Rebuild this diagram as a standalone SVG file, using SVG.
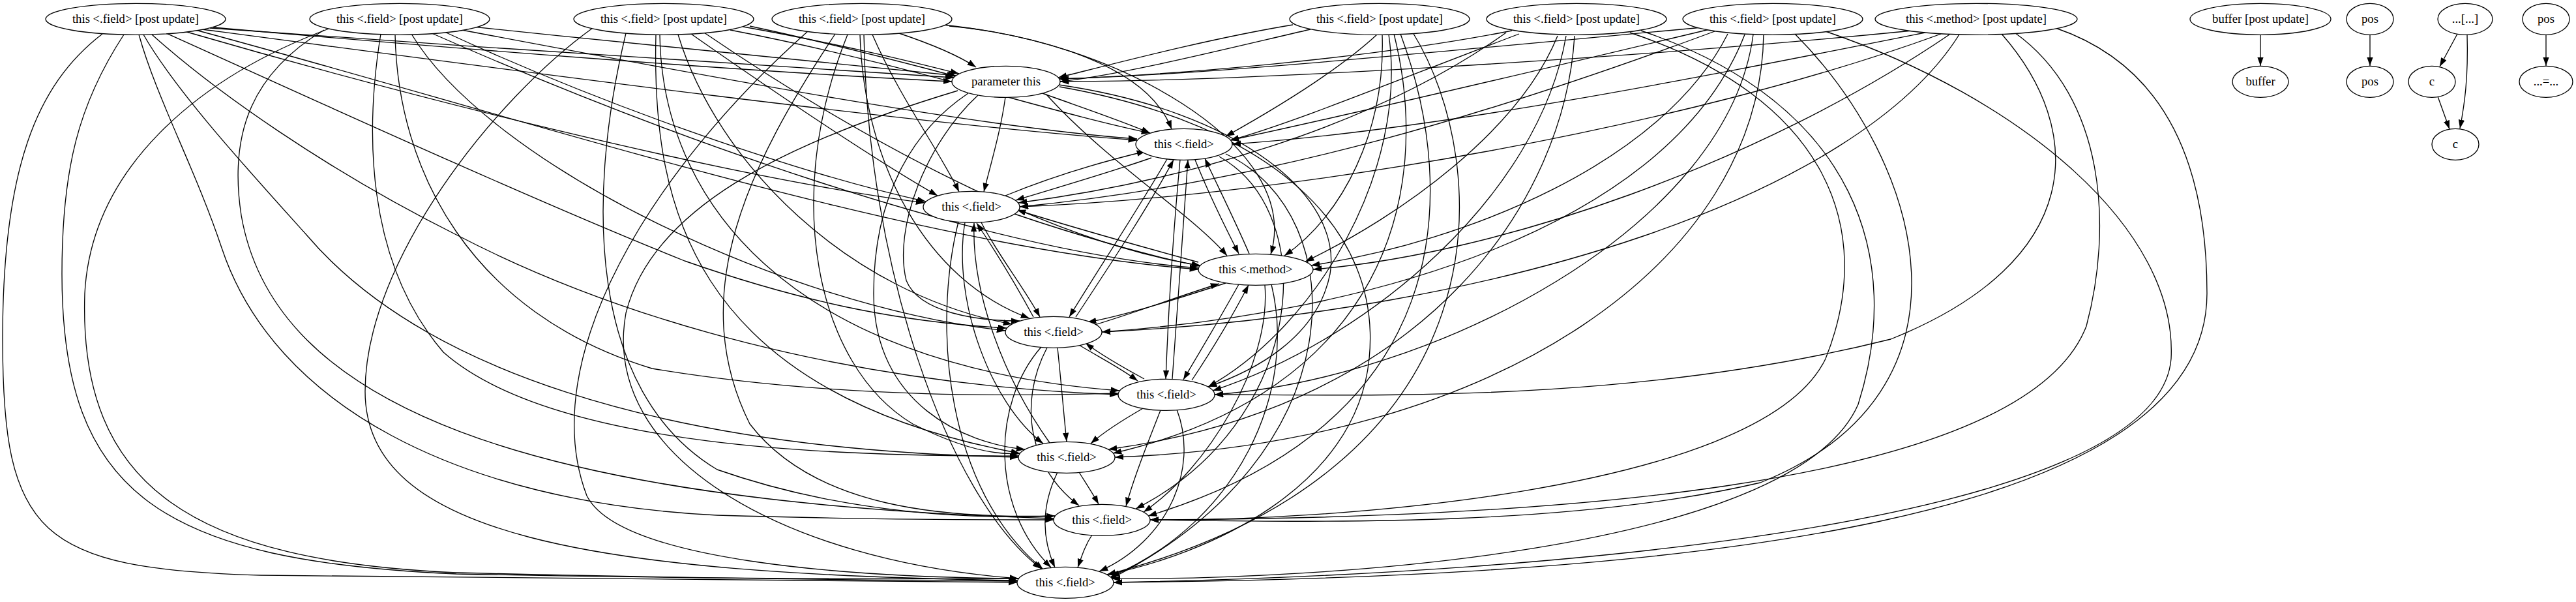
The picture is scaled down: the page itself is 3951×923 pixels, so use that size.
<svg xmlns="http://www.w3.org/2000/svg" width="3951" height="923" viewBox="0 0 3951 923">
<defs>
<marker id="ah" markerWidth="14" markerHeight="10" refX="13.3" refY="4.7" orient="auto" markerUnits="userSpaceOnUse"><path d="M0,0 L13.3,4.7 L0,9.4 z" fill="#000"/></marker>
<style>
.n ellipse{fill:#fff;stroke:#000;stroke-width:1.33}
text{font-family:"Liberation Serif","Times New Roman",serif;font-size:18.67px;text-anchor:middle;fill:#000}
#edges path{fill:none;stroke:#000;stroke-width:1.33;marker-end:url(#ah)}
</style>
</defs>
<rect width="3951" height="923" fill="#fff"/>
<g id="edges">
<!-- A -->
<path d="M157,52 C55,130 4,260 4,520 C4,820 60,872 400,882 C900,888 1300,890 1560,893"/>
<path d="M190,53 C120,160 95,260 95,420 C95,760 250,860 700,880 C1100,888 1400,888 1562,887"/>
<path d="M213,53 C240,150 300,260 340,380 C420,620 700,770 1100,790 C1350,797 1500,797 1616,797"/>
<path d="M220,53 C270,140 380,260 470,360 C640,560 1000,690 1562,701"/>
<path d="M233,53 C330,140 500,260 700,360 C950,490 1300,590 1715,605"/>
<path d="M253,50 C420,125 800,300 1050,400 C1250,470 1400,495 1544,503"/>
<path d="M283,48 C600,140 1100,270 1418,311"/>
<path d="M300,46 C800,180 1400,380 1838,413"/>
<path d="M310,45 C800,110 1400,190 1744,215"/>
<path d="M322,43 C700,70 1150,100 1463,119"/>
<path d="M327,42 C700,75 1150,110 1460,125"/>
<!-- B -->
<path d="M507,43 C300,120 140,260 130,450 C120,750 300,860 700,878 C1100,888 1400,890 1560,891"/>
<path d="M497,46 C390,110 350,200 370,330 C420,620 800,770 1616,795"/>
<path d="M584,52 C560,200 560,400 680,540 C850,690 1300,700 1562,699"/>
<path d="M606,53 C610,260 720,480 1000,565 C1300,615 1600,606 1715,603"/>
<path d="M631,52 C750,250 1200,470 1542,507"/>
<path d="M660,50 C1000,200 1500,385 1838,411"/>
<path d="M680,48 C900,150 1200,260 1420,309"/>
<path d="M703,45 C1100,120 1500,195 1744,213"/>
<path d="M725,41 C1000,70 1300,100 1466,116"/>
<!-- C -->
<path d="M909,43 C760,150 560,400 560,600 C560,820 900,880 1560,890"/>
<path d="M960,51 C900,300 900,600 1100,720 C1300,790 1500,796 1618,791"/>
<path d="M1006,53 C1000,300 1050,600 1564,695"/>
<path d="M1012,53 C1015,300 1200,560 1717,599"/>
<path d="M1040,53 C1100,250 1300,450 1552,497"/>
<path d="M1080,50 C1300,200 1600,370 1841,407"/>
<path d="M1060,52 C1200,150 1350,250 1438,300"/>
<path d="M1120,46 C1400,100 1600,170 1764,204"/>
<path d="M1140,41 C1300,70 1400,95 1471,113"/>
<path d="M1150,40 C1300,72 1400,100 1467,117"/>
<!-- D -->
<path d="M1239,48 C1000,260 820,550 900,760 C950,860 1300,885 1562,887"/>
<path d="M1281,52 C1150,250 1050,450 1150,650 C1250,780 1450,795 1618,791"/>
<path d="M1300,53 C1200,300 1250,560 1400,650 C1480,690 1530,698 1564,695"/>
<path d="M1319,53 C1325,250 1420,430 1579,488"/>
<path d="M1325,53 C1330,400 1450,760 1597,872"/>
<path d="M1338,53 C1380,150 1440,230 1471,294"/>
<path d="M1376,50 C1430,68 1470,85 1497,103"/>
<path d="M1446,38 C1600,55 1760,100 1797,198"/>
<path d="M1456,40 C1700,60 2000,220 1949,390"/>
<!-- E -->
<path d="M1983,38 C1850,60 1700,100 1623,119"/>
<path d="M2010,45 C1880,75 1720,115 1626,125"/>
<path d="M2112,53 C2050,110 1950,170 1880,209"/>
<path d="M2120,53 C2125,200 2060,330 1970,392"/>
<path d="M2130,53 C2160,260 2020,500 1853,593"/>
<path d="M2138,52 C2200,300 2120,600 1707,695"/>
<path d="M2148,52 C2240,300 2230,650 1761,791"/>
<path d="M2167,50 C2290,250 2320,720 1698,881"/>
<!-- F -->
<path d="M2319,47 C2100,90 1800,115 1626,121"/>
<path d="M2310,50 C2100,200 1800,280 1562,311"/>
<path d="M2389,55 C2330,200 2150,330 2002,401"/>
<path d="M2402,55 C2360,300 2100,520 1860,599"/>
<path d="M2415,55 C2400,300 2200,620 1700,689"/>
<path d="M2500,50 C2800,150 2880,350 2800,550 C2700,760 2000,800 1764,797"/>
<path d="M2517,47 C2850,160 2920,400 2850,620 C2750,850 2000,890 1705,887"/>
<path d="M2330,52 C2150,120 1980,190 1887,215"/>
<!-- G -->
<path d="M2610,42 C2200,80 1850,115 1623,121"/>
<path d="M2622,45 C2350,110 2050,180 1887,215"/>
<path d="M2630,48 C2300,170 1950,280 1564,317"/>
<path d="M2650,52 C2550,250 2250,370 2011,407"/>
<path d="M2676,53 C2560,350 2100,480 1690,509"/>
<path d="M2689,53 C2650,350 2200,580 1863,605"/>
<path d="M2705,52 C2700,400 2300,680 1710,701"/>
<path d="M2753,52 C2950,250 3050,600 2700,740 C2400,810 2000,800 1764,797"/>
<path d="M2797,47 C3100,150 3340,350 3330,550 C3310,800 2400,880 1708,893"/>
<!-- H -->
<path d="M2933,47 C2500,90 1900,125 1626,125"/>
<path d="M2953,50 C2600,120 2200,200 1890,221"/>
<path d="M2977,52 C2600,190 2000,300 1564,317"/>
<path d="M2990,53 C2700,250 2300,390 2014,413"/>
<path d="M3005,53 C2850,300 2300,480 1690,509"/>
<path d="M3070,52 C3200,200 3200,400 2900,520 C2500,620 2100,605 1863,605"/>
<path d="M3090,50 C3230,150 3240,350 3200,500 C3100,760 2300,795 1764,797"/>
<path d="M3153,43 C3320,100 3385,250 3385,450 C3385,800 2600,885 1708,893"/>
<!-- P -->
<path d="M1469,139 C1200,220 1000,320 960,480 C920,700 1200,860 1562,887"/>
<path d="M1485,143 C1400,200 1340,300 1340,450 C1340,620 1480,680 1572,689"/>
<path d="M1500,146 C1420,220 1370,350 1390,430 C1410,480 1500,492 1564,492"/>
<path d="M1542,149 C1535,200 1520,250 1509,294"/>
<path d="M1596,142 C1660,165 1720,185 1764,204"/>
<path d="M1605,145 C1700,250 1830,330 1882,392"/>
<path d="M1624,130 C1900,170 2060,300 2040,420 C2020,520 1920,570 1853,593"/>
<path d="M1625,133 C1950,190 2120,350 2100,550 C2080,750 1850,850 1698,881"/>
<!-- inner -->
<path d="M1766,242 C1700,265 1630,285 1558,307"/>
<path d="M1542,300 C1620,268 1690,248 1757,232"/>
<path d="M1833,245 C1855,300 1880,350 1900,389"/>
<path d="M1916,389 C1895,340 1870,290 1848,243"/>
<path d="M1556,328 C1650,360 1760,392 1841,408"/>
<path d="M1838,402 C1750,378 1650,350 1560,322"/>
<path d="M1790,244 C1740,330 1680,420 1640,486"/>
<path d="M1650,486 C1700,410 1760,320 1800,245"/>
<path d="M1505,341 C1530,390 1570,440 1595,486"/>
<path d="M1585,486 C1560,440 1530,390 1498,342"/>
<path d="M1880,434 C1800,460 1720,485 1668,494"/>
<path d="M1676,499 C1740,480 1820,450 1870,435"/>
<path d="M1810,245 C1800,350 1792,480 1788,581"/>
<path d="M1798,581 C1805,480 1815,350 1822,245"/>
<path d="M1900,436 C1870,490 1840,540 1815,582"/>
<path d="M1828,583 C1860,535 1890,485 1915,437"/>
<path d="M1655,529 C1690,550 1720,565 1745,584"/>
<path d="M1755,581 C1720,562 1690,545 1665,526"/>
<path d="M1480,341 C1460,460 1520,620 1600,680"/>
<path d="M1470,340 C1430,500 1450,750 1600,873"/>
<path d="M1610,679 C1540,580 1490,450 1494,342"/>
<path d="M1622,533 C1628,590 1632,640 1636,677"/>
<path d="M1597,532 C1520,620 1520,780 1612,870"/>
<path d="M1606,533 C1560,620 1580,720 1655,775"/>
<path d="M1755,625 C1720,645 1690,665 1673,680"/>
<path d="M1780,629 C1760,680 1740,730 1727,776"/>
<path d="M1805,628 C1840,720 1790,830 1686,876"/>
<path d="M1655,724 C1665,740 1675,755 1685,773"/>
<path d="M1622,724 C1595,780 1600,830 1618,870"/>
<path d="M1675,820 C1665,835 1660,850 1653,870"/>
<path d="M1950,436 C1990,600 1900,800 1704,884"/>
<path d="M1940,437 C1950,560 1850,720 1754,785"/>
<path d="M1880,236 C2080,330 2080,700 1700,889"/>
<path d="M1870,240 C2030,330 2000,650 1742,780"/>
<!-- right cluster -->
<path d="M3467,53 L3467,101"/>
<path d="M3635,53 L3635,101"/>
<path d="M3769,52 L3742,102"/>
<path d="M3784,53 C3786,120 3780,160 3773,197"/>
<path d="M3739,148 L3757,198"/>
<path d="M3905,53 L3905,101"/>
</g>
<g id="n1" class="n"><ellipse cx="208" cy="29.3" rx="138" ry="24"/><text x="208" y="35.3">this &lt;.field&gt; [post update]</text></g>
<g id="n2" class="n"><ellipse cx="613" cy="29.3" rx="138" ry="24"/><text x="613" y="35.3">this &lt;.field&gt; [post update]</text></g>
<g id="n3" class="n"><ellipse cx="1018" cy="29.3" rx="138" ry="24"/><text x="1018" y="35.3">this &lt;.field&gt; [post update]</text></g>
<g id="n4" class="n"><ellipse cx="1322" cy="29.3" rx="138" ry="24"/><text x="1322" y="35.3">this &lt;.field&gt; [post update]</text></g>
<g id="n5" class="n"><ellipse cx="2116" cy="29.3" rx="138" ry="24"/><text x="2116" y="35.3">this &lt;.field&gt; [post update]</text></g>
<g id="n6" class="n"><ellipse cx="2418" cy="29.3" rx="138" ry="24"/><text x="2418" y="35.3">this &lt;.field&gt; [post update]</text></g>
<g id="n7" class="n"><ellipse cx="2719" cy="29.3" rx="138" ry="24"/><text x="2719" y="35.3">this &lt;.field&gt; [post update]</text></g>
<g id="n8" class="n"><ellipse cx="3031" cy="29.3" rx="155" ry="24"/><text x="3031" y="35.3">this &lt;.method&gt; [post update]</text></g>
<g id="n9" class="n"><ellipse cx="3467" cy="29.3" rx="108" ry="24"/><text x="3467" y="35.3">buffer [post update]</text></g>
<g id="n10" class="n"><ellipse cx="3635" cy="29.3" rx="36" ry="24"/><text x="3635" y="35.3">pos</text></g>
<g id="n11" class="n"><ellipse cx="3781" cy="29.3" rx="42" ry="24"/><text x="3781" y="35.3">...[...]</text></g>
<g id="n12" class="n"><ellipse cx="3905" cy="29.3" rx="36" ry="24"/><text x="3905" y="35.3">pos</text></g>
<g id="p" class="n"><ellipse cx="1543" cy="125.3" rx="83" ry="24"/><text x="1543" y="131.3">parameter this</text></g>
<g id="buf" class="n"><ellipse cx="3467" cy="125.3" rx="43" ry="24"/><text x="3467" y="131.3">buffer</text></g>
<g id="pos2" class="n"><ellipse cx="3635" cy="125.3" rx="36" ry="24"/><text x="3635" y="131.3">pos</text></g>
<g id="c1" class="n"><ellipse cx="3730" cy="125.3" rx="36" ry="24"/><text x="3730" y="131.3">c</text></g>
<g id="eq" class="n"><ellipse cx="3905" cy="125.3" rx="41" ry="24"/><text x="3905" y="131.3">...=...</text></g>
<g id="c2" class="n"><ellipse cx="3766" cy="221.3" rx="36" ry="24"/><text x="3766" y="227.3">c</text></g>
<g id="f2" class="n"><ellipse cx="1816" cy="221.3" rx="74" ry="24"/><text x="1816" y="227.3">this &lt;.field&gt;</text></g>
<g id="f3" class="n"><ellipse cx="1490" cy="317.3" rx="74" ry="24"/><text x="1490" y="323.3">this &lt;.field&gt;</text></g>
<g id="m" class="n"><ellipse cx="1926" cy="413.3" rx="88" ry="24"/><text x="1926" y="419.3">this &lt;.method&gt;</text></g>
<g id="f5" class="n"><ellipse cx="1616" cy="509.3" rx="74" ry="24"/><text x="1616" y="515.3">this &lt;.field&gt;</text></g>
<g id="f6" class="n"><ellipse cx="1789" cy="605.3" rx="74" ry="24"/><text x="1789" y="611.3">this &lt;.field&gt;</text></g>
<g id="f7" class="n"><ellipse cx="1636" cy="701.3" rx="74" ry="24"/><text x="1636" y="707.3">this &lt;.field&gt;</text></g>
<g id="f8" class="n"><ellipse cx="1690" cy="797.3" rx="74" ry="24"/><text x="1690" y="803.3">this &lt;.field&gt;</text></g>
<g id="f9" class="n"><ellipse cx="1634" cy="893.3" rx="74" ry="24"/><text x="1634" y="899.3">this &lt;.field&gt;</text></g>
</svg>
